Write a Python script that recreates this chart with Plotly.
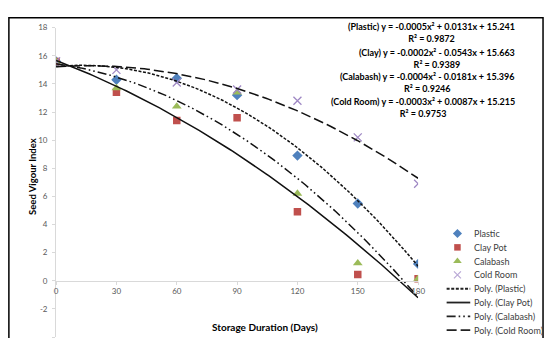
import numpy as np
import plotly.graph_objects as go

# ---------------- data ----------------
days = [0, 30, 60, 90, 120, 150, 180]
plastic = [15.6, 14.3, 14.4, 13.2, 8.9, 5.5, 1.2]
clay_pot = [15.6, 13.4, 11.4, 11.6, 4.9, 0.45, 0.15]
calabash = [15.6, 13.7, 12.4, 13.4, 6.2, 1.25, 0.15]
cold_room = [15.6, 15.0, 14.1, 13.6, 12.8, 10.2, 6.9]

series_names = ["Plastic", "Clay Pot", "Calabash", "Cold Room"]
trend_names = ["Poly. (Plastic)", "Poly. (Clay Pot)", "Poly. (Calabash)", "Poly. (Cold Room)"]
eq_labels = [
    "(Plastic) y = -0.0005x² + 0.0131x + 15.241",
    "(Clay) y = -0.0002x² - 0.0543x + 15.663",
    "(Calabash) y = -0.0004x² - 0.0181x + 15.396",
    "(Cold Room) y = -0.0003x² + 0.0087x + 15.215",
]
r2_labels = ["R² = 0.9872", "R² = 0.9389", "R² = 0.9246", "R² = 0.9753"]
x_ticks = [0, 30, 60, 90, 120, 150, 180]
y_ticks = [-4, -2, 0, 2, 4, 6, 8, 10, 12, 14, 16, 18]

# ---------------- styles ----------------
W, H = 552, 338
FONT = "Lato"
colors = ["#4F81BD", "#C0504D", "#9BBB59", "#8064A2"]
symbols = ["diamond", "square", "triangle-up", "x-thin"]
msizes = [8, 7.5, 8.5, 8]
dashes = ["3px,1.6px", "solid", "9px,3px,1.6px,3px,1.6px,3px", "10px,4px"]

# plot area in pixels
PX0, PX1 = 55, 423
PY_TOP, PY_BOT = 23, 337
xdom = [PX0 / W, PX1 / W]
ydom = [(H - PY_BOT) / H, (H - PY_TOP) / H]
YMIN, YMAX = -4, 18
xaxis_pos = ydom[0] + (0 - YMIN) / (YMAX - YMIN) * (ydom[1] - ydom[0])

fig = go.Figure()
all_series = [plastic, clay_pot, calabash, cold_room]

# markers
for name, vals, c, s, ms in zip(series_names, all_series, colors, symbols, msizes):
    mk = dict(color=c, symbol=s, size=ms)
    if s == "x-thin":
        mk["line"] = dict(color="#9F88C4", width=1.3)
    fig.add_trace(go.Scatter(x=days, y=vals, mode="markers", name=name,
                             marker=mk, showlegend=False))

# polynomial (order 2) trendlines, fitted from the data
xs = np.linspace(min(days), max(days), 120)
for name, vals, d in zip(trend_names, all_series, dashes):
    coef = np.polyfit(days, vals, 2)
    fig.add_trace(go.Scatter(x=xs, y=np.polyval(coef, xs), mode="lines", name=name,
                             line=dict(color="#111111", width=1.5, dash=d),
                             showlegend=False))

# ---------------- custom legend on a pixel overlay axis ----------------
LEG_MX, LEG_L0, LEG_L1, LEG_TX = 463, 452, 476, 478
LEG_Y0, LEG_DY = 232, 14
annotations = []
for i, (name, c, s, ms) in enumerate(zip(series_names, colors, symbols, msizes)):
    yy = LEG_Y0 + i * LEG_DY
    mk = dict(color=c, symbol=s, size=ms - 1)
    if s == "x-thin":
        mk["line"] = dict(color="#B9A8D6", width=1.2)
    fig.add_trace(go.Scatter(x=[LEG_MX], y=[yy], xaxis="x2", yaxis="y2", mode="markers",
                             marker=mk, showlegend=False, hoverinfo="skip"))
    annotations.append(dict(x=LEG_TX, y=yy, xref="x2", yref="y2", text=name,
                            showarrow=False, xanchor="left", yanchor="middle",
                            font=dict(family=FONT, size=9, color="#404040")))
for j, (name, d) in enumerate(zip(trend_names, dashes)):
    yy = LEG_Y0 + (j + 4) * LEG_DY
    fig.add_trace(go.Scatter(x=[LEG_L0, LEG_L1], y=[yy, yy], xaxis="x2", yaxis="y2",
                             mode="lines", line=dict(color="#222222", width=1.8, dash=d),
                             showlegend=False, hoverinfo="skip"))
    annotations.append(dict(x=LEG_TX, y=yy, xref="x2", yref="y2", text=name,
                            showarrow=False, xanchor="left", yanchor="middle",
                            font=dict(family=FONT, size=9, color="#404040")))

# equation labels
EQ_RIGHT = 524
eq_centers = [28, 54, 79, 104]
for eq, r2, yc in zip(eq_labels, r2_labels, eq_centers):
    annotations.append(dict(x=EQ_RIGHT, y=yc, xref="x2", yref="y2",
                            text="<b>" + eq + "<br>" + r2 + "</b>", align="center",
                            showarrow=False, xanchor="right", yanchor="middle",
                            font=dict(family=FONT, size=9, color="#000000")))

# axis titles
annotations.append(dict(x=31, y=174, xref="x2", yref="y2", text="<b>Seed Vigour Index</b>",
                        textangle=-90, showarrow=False, xanchor="center", yanchor="middle",
                        font=dict(family=FONT, size=9.5, color="#000000")))
annotations.append(dict(x=267, y=327, xref="x2", yref="y2", text="<b>Storage Duration (Days)</b>",
                        showarrow=False, xanchor="center", yanchor="middle",
                        font=dict(family=FONT, size=10, color="#000000")))

# outer chart frame (paper coords: margins are zero, so paper = whole figure)
shapes = [dict(type="rect", xref="paper", yref="paper",
               x0=7 / W, x1=550 / W, y0=-0.1, y1=1 - 13 / H,
               line=dict(color="#000000", width=1.5), fillcolor="rgba(0,0,0,0)", layer="above")]

fig.update_layout(
    width=W, height=H,
    margin=dict(l=0, r=0, t=0, b=0),
    paper_bgcolor="white", plot_bgcolor="rgba(0,0,0,0)",
    font=dict(family=FONT, size=8, color="#595959"),
    showlegend=False,
    xaxis=dict(domain=xdom, range=[0, 180], anchor="free", position=xaxis_pos,
               tickvals=x_ticks, ticktext=[str(v) for v in x_ticks],
               showline=True, linecolor="#D9D9D9", linewidth=1,
               ticks="outside", ticklen=3, tickcolor="#D9D9D9",
               showgrid=False, zeroline=False,
               tickfont=dict(family=FONT, size=8, color="#595959")),
    yaxis=dict(domain=ydom, range=[YMIN, YMAX], anchor="x",
               tickvals=y_ticks, ticktext=[str(v) for v in y_ticks],
               showline=True, linecolor="#D9D9D9", linewidth=1,
               ticks="outside", ticklen=3, tickcolor="#D9D9D9",
               showgrid=False, zeroline=False, ticklabelstandoff=3,
               tickfont=dict(family=FONT, size=8, color="#595959")),
    xaxis2=dict(domain=[0, 1], range=[0, W], anchor="y2", visible=False, fixedrange=True),
    yaxis2=dict(domain=[0, 1], range=[H, 0], anchor="x2", visible=False, fixedrange=True),
    annotations=annotations,
    shapes=shapes,
)

fig.write_html("out.html", config={"displayModeBar": False},
               post_script="document.body.style.margin='0';document.body.style.overflow='hidden';")
